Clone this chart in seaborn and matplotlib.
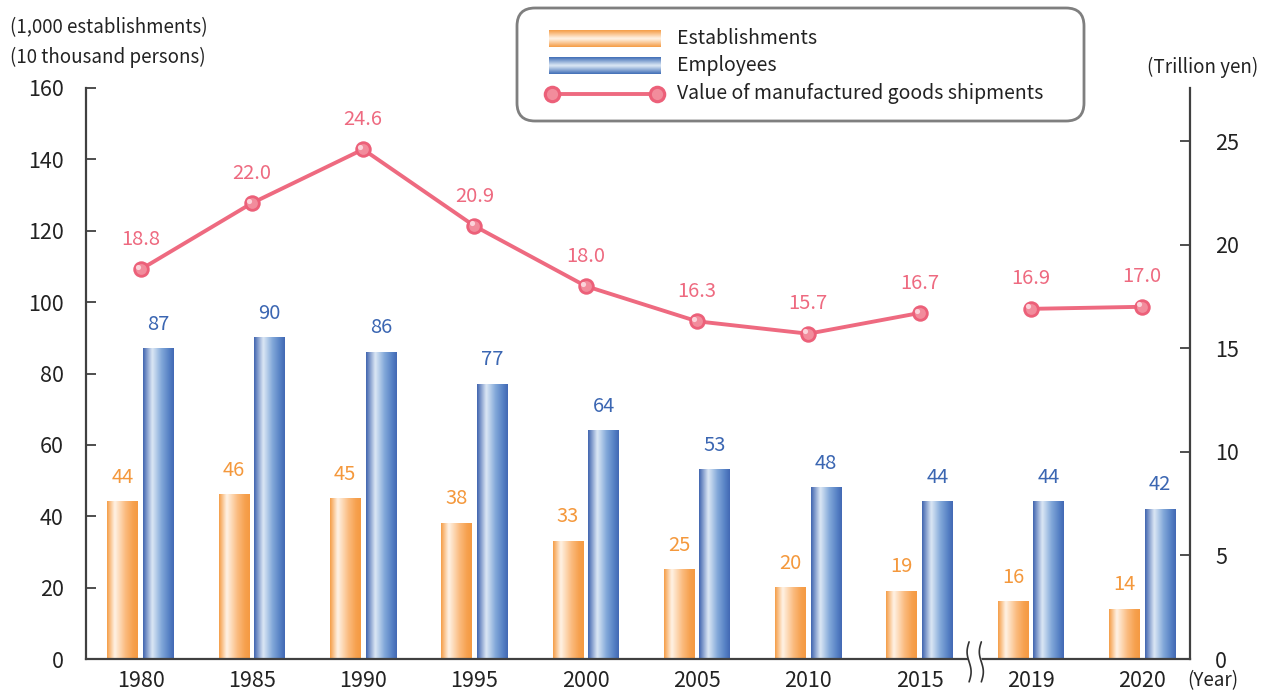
import numpy as np
import pandas as pd
import matplotlib
matplotlib.use("Agg")
import matplotlib.pyplot as plt
import matplotlib.transforms as mtransforms
import seaborn as sns
from matplotlib.patches import FancyBboxPatch
from matplotlib.colors import LinearSegmentedColormap

# ---------------- data ----------------
years = ["1980", "1985", "1990", "1995", "2000", "2005", "2010", "2015", "2019", "2020"]
establishments = [44, 46, 45, 38, 33, 25, 20, 19, 16, 14]
employees = [87, 90, 86, 77, 64, 53, 48, 44, 44, 42]
shipments = [18.8, 22.0, 24.6, 20.9, 18.0, 16.3, 15.7, 16.7, 16.9, 17.0]
segments = [0, 0, 0, 0, 0, 0, 0, 0, 1, 1]
series_names = ["Establishments", "Employees"]
line_name = "Value of manufactured goods shipments"

# ---------------- style ----------------
ORANGE = "#F59C45"
BLUE = "#4770BA"
PINK = "#EE6A80"
ORANGE_TXT = "#F4983C"
BLUE_TXT = "#3B66B2"
AXC = "#404040"

sns.set_theme(style="white")
plt.rcParams['font.family'] = ['Noto Sans CJK JP', 'DejaVu Sans']

cm_orange = LinearSegmentedColormap.from_list(
    "o", [(0, "#F59C45"), (0.25, "#FFF3E6"), (0.6, "#FBBB7E"), (0.85, "#F6A04D"), (1, "#F59A42")])
cm_blue = LinearSegmentedColormap.from_list(
    "b", [(0, "#3F63AE"), (0.3, "#DCE8F5"), (0.6, "#82A8D9"), (0.85, "#5580C4"), (1, "#4268B3")])

W, H = 1263, 693
fig = plt.figure(figsize=(W / 100, H / 100), dpi=100)
ax = fig.add_axes([86 / W, (H - 659) / H, (1190 - 86) / W, (659 - 88) / H])

df = pd.DataFrame({
    "year": years * 2,
    "value": establishments + employees,
    "series": [series_names[0]] * len(years) + [series_names[1]] * len(years),
})
sns.barplot(data=df, x="year", y="value", hue="series", hue_order=series_names,
            palette=[ORANGE, BLUE], width=0.64, gap=0.14, saturation=1,
            errorbar=None, legend=False, ax=ax)

grad = np.linspace(0, 1, 256).reshape(1, -1)
for p in list(ax.patches):
    x0, w, h = p.get_x(), p.get_width(), p.get_height()
    fc = p.get_facecolor()
    cmap = cm_orange if fc[0] > 0.6 else cm_blue
    ax.imshow(grad, cmap=cmap, extent=[x0, x0 + w, 0, h], aspect="auto",
              interpolation="bicubic", zorder=2)
    p.set_visible(False)
    cx = x0 + w / 2
    col = ORANGE_TXT if cmap is cm_orange else BLUE_TXT
    ax.annotate(f"{h:.0f}", (cx, h), xytext=(0, 10), textcoords="offset points",
                ha="center", va="bottom", fontsize=14.5, color=col)

ax.set_xlim(-0.49, 9.43)
ax.set_ylim(0, 160)
ax.set_yticks(range(0, 161, 20))
ax.set_xlabel("")
ax.set_ylabel("")
ax.tick_params(axis="y", direction="in", length=7, width=1.3, color=AXC,
               labelsize=15.5, pad=16, left=True, labelcolor="#222222")
ax.tick_params(axis="x", length=0, labelsize=15.5, pad=8, labelcolor="#222222")
for s in ["top", "right"]:
    ax.spines[s].set_visible(False)
for s in ["left", "bottom"]:
    ax.spines[s].set_color(AXC)
    ax.spines[s].set_linewidth(1.6)

# ---------------- line on twin axis ----------------
ax2 = ax.twinx()
ldf = pd.DataFrame({"x": np.arange(len(years)), "v": shipments, "seg": segments})
sns.lineplot(data=ldf, x="x", y="v", units="seg", estimator=None, color=PINK,
             linewidth=2.8, ax=ax2, legend=False, zorder=3)
ax2.scatter(ldf["x"], ldf["v"], s=140, color="#EC6079", zorder=4, linewidths=0)
ax2.scatter(ldf["x"], ldf["v"], s=60, color="#F28C9C", zorder=5, linewidths=0)
ax2.scatter(ldf["x"] - 0.025, ldf["v"] + 0.12, s=14, color="#FBD3DA", zorder=6, linewidths=0)
for xi, v in zip(ldf["x"], shipments):
    ax2.annotate(f"{v:.1f}", (xi, v), xytext=(0, 14), textcoords="offset points",
                 ha="center", va="bottom", fontsize=14.5, color=PINK)
ax2.set_ylim(0, 27.56)
ax2.set_yticks(range(0, 26, 5))
ax2.set_xlim(-0.49, 9.43)
ax2.set_xlabel("")
ax2.set_ylabel("")
ax2.tick_params(axis="y", direction="in", length=7, width=1.3, color=AXC,
                labelsize=15.5, pad=18, right=True, labelcolor="#222222")
for s in ["top", "left", "bottom"]:
    ax2.spines[s].set_visible(False)
ax2.spines["right"].set_color(AXC)
ax2.spines["right"].set_linewidth(1.6)
ax2.grid(False)
ax.grid(False)

# ---------------- axis break mark ----------------
trans = mtransforms.blended_transform_factory(ax.transData, ax.transAxes)
yy = np.linspace(-0.04, 0.03, 60)
wave = 0.018 * np.sin((yy + 0.04) / 0.07 * 2 * np.pi)
xa = 7.445 + wave
xb = 7.555 + wave
ax.fill_betweenx(yy, xa, xb, color="white", transform=trans, clip_on=False, zorder=10)
ax.plot(xa, yy, color="#333333", lw=1.2, transform=trans, clip_on=False, zorder=11)
ax.plot(xb, yy, color="#333333", lw=1.2, transform=trans, clip_on=False, zorder=11)

# ---------------- unit labels ----------------
fig.text(10 / W, 1 - 28 / H, "(1,000 establishments)", fontsize=13.5, va="center", color="#222222")
fig.text(10 / W, 1 - 57 / H, "(10 thousand persons)", fontsize=13.5, va="center", color="#222222")
fig.text(1258 / W, 1 - 67 / H, "(Trillion yen)", fontsize=13.5, va="center", ha="right", color="#222222")
fig.text(1213 / W, 1 - 681 / H, "(Year)", fontsize=13.5, va="center", ha="center", color="#222222")

# ---------------- legend ----------------
lax = fig.add_axes([515 / W, 1 - 124 / H, 572 / W, 118 / H])
lax.set_xlim(0, 572)
lax.set_ylim(118, 0)
lax.axis("off")
lax.add_patch(FancyBboxPatch((2, 2), 567, 113, boxstyle="round,pad=0,rounding_size=18",
                             ec="#7F7F7F", fc="white", lw=2, zorder=1))
vgrad = np.abs(np.linspace(-1, 1, 64)).reshape(-1, 1)
cm_lo = LinearSegmentedColormap.from_list("lo", ["#FFF3E6", "#F59C45"])
cm_lb = LinearSegmentedColormap.from_list("lb", ["#DCE8F5", "#3F6DB6"])
lax.imshow(vgrad, cmap=cm_lo, extent=[34, 146, 41, 24], aspect="auto",
           interpolation="bicubic", zorder=3)
lax.imshow(vgrad, cmap=cm_lb, extent=[34, 146, 68, 51], aspect="auto",
           interpolation="bicubic", zorder=3)
lax.plot([37, 142], [88, 88], color=PINK, lw=2.8, zorder=3)
lax.scatter([37, 142], [88, 88], s=160, color="#EC6079", zorder=4, linewidths=0)
lax.scatter([37, 142], [88, 88], s=65, color="#F28C9C", zorder=5, linewidths=0)
lax.set_xlim(0, 572)
lax.set_ylim(118, 0)
for yv, t in zip([33, 60, 88], series_names + [line_name]):
    lax.text(162, yv, t, fontsize=14, va="center", ha="left", color="#222222", zorder=6)

fig.savefig("out.png", dpi=100)
